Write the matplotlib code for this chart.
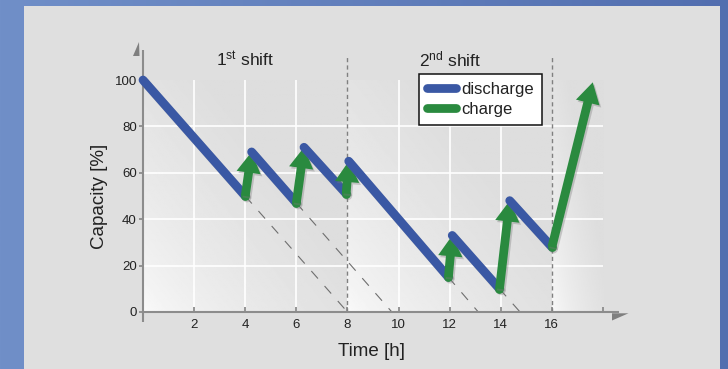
import numpy as np
import matplotlib
matplotlib.use("Agg")
import matplotlib.pyplot as plt
import matplotlib.patheffects as pe
from matplotlib.patches import Rectangle, FancyArrowPatch, Polygon, ArrowStyle
from matplotlib.lines import Line2D

plt.rcParams['font.family'] = ['Liberation Sans', 'DejaVu Sans']
plt.rcParams['mathtext.fontset'] = 'custom'
plt.rcParams['mathtext.rm'] = 'Liberation Sans'

# ---- data -------------------------------------------------------------
# discharge phases run from a peak to the following trough
peak_t = [0.0, 4.25, 6.3, 8.05, 12.1, 14.35]
peak_c = [100, 69, 71, 65, 33, 48]
trough_t = [4.0, 6.0, 7.95, 11.95, 13.95, 16.0]
trough_c = [50, 47, 51, 15, 10, 28]
# final charge after the second shift
final_t = 17.6
final_c = 99
# discharge phases continued (dashed) down to empty
extrapolate = [True, True, False, True, True, False]

shift_edges = [0, 8, 16, 18]
shift_names = ['$\\mathregular{1^{st}}$ shift', '$\\mathregular{2^{nd}}$ shift']
shift_centers = [4, 12]

x_ticks = [2, 4, 6, 8, 10, 12, 14, 16, 18]
x_ticklabels = ['2', '4', '6', '8', '10', '12', '14', '16', '']
y_ticks = [0, 20, 40, 60, 80, 100]
x_grid = [2, 4, 6, 10, 12, 14]
y_grid = [20, 40, 60, 80]

BLUE = '#3a58a4'
GREEN = '#2a8a3f'
AXIS_GREY = '#8c8c8c'
LW = 6.3

W, H = 728, 369
fig = plt.figure(figsize=(W / 100, H / 100), dpi=100)


def px(x, y):
    """pixel position (from top-left) -> figure fraction"""
    return x / W, 1 - y / H


# ---- backdrop: blue frame with a light grey panel ----------------------
bg = fig.add_axes([0, 0, 1, 1], zorder=-10)
bg.set_axis_off()
c_left = np.array([112, 143, 200]) / 255
c_right = np.array([82, 110, 175]) / 255
u = np.linspace(0, 1, 256)
grad = (c_left[None, :] * (1 - u[:, None]) + c_right[None, :] * u[:, None])[None, :, :]
bg.imshow(grad, extent=[0, 1, 0, 1], aspect='auto', transform=bg.transAxes)
x0, y0 = px(24, 369)
x1, y1 = px(720, 6)
bg.add_patch(Rectangle((x0, y0), x1 - x0, y1 - y0, transform=bg.transAxes,
                       facecolor='#dfdfdf', edgecolor='none'))
bg.set_xlim(0, 1)
bg.set_ylim(0, 1)

# ---- main axes ----------------------------------------------------------
left, bottom = px(143, 312)
right, top = px(603, 80)
ax = fig.add_axes([left, bottom, right - left, top - bottom])
ax.set_xlim(0, 18)
ax.set_ylim(0, 100)
ax.patch.set_visible(False)
for s in ax.spines.values():
    s.set_visible(False)

# gradient shading per shift block
gx = np.linspace(0, 1, 200)
gy = np.linspace(0, 1, 200)
GX, GY = np.meshgrid(gx, gy)
t = np.clip((GX * 0.9 + GY * 0.8) / 1.1, 0, 1) ** 0.6
shade = 0.985 - (0.985 - 0.868) * t
for a, b in zip(shift_edges[:-1], shift_edges[1:]):
    ax.imshow(shade, extent=[a, b, 0, 100], origin='lower', aspect='auto',
              cmap='gray', vmin=0, vmax=1, zorder=0)
ax.set_xlim(0, 18)
ax.set_ylim(0, 100)

for gxv in x_grid:
    ax.plot([gxv, gxv], [0, 100], color='white', lw=1.2, zorder=1)
for gyv in y_grid:
    ax.plot([0, 18], [gyv, gyv], color='white', lw=1.2, zorder=1)

# shift boundaries
for xb in shift_edges[1:-1]:
    ax.plot([xb, xb], [0, 110], color='#808080', lw=1.0, dashes=(3, 2.3),
            clip_on=False, zorder=2)

# axes lines with half arrowheads
ax.plot([0, 0], [-4.5, 113], color=AXIS_GREY, lw=1.5, clip_on=False, zorder=3,
        solid_capstyle='butt')
ax.plot([0, 18.62], [0, 0], color=AXIS_GREY, lw=1.5, clip_on=False, zorder=3,
        solid_capstyle='butt')
fig.add_artist(Polygon([px(133, 56), px(139.5, 56), px(139, 42)], closed=True,
                       transform=fig.transFigure, facecolor='#7f7f7f',
                       edgecolor='none'))
fig.add_artist(Polygon([px(612, 313.3), px(628.5, 313.3), px(612, 320.5)],
                       closed=True, transform=fig.transFigure,
                       facecolor='#7f7f7f', edgecolor='none'))

ax.set_xticks(x_ticks)
ax.set_xticklabels(x_ticklabels)
ax.set_yticks(y_ticks)
ax.tick_params(axis='x', direction='in', length=3.5, width=1.3, color=AXIS_GREY,
               pad=5, labelsize=9.5, labelcolor='#222222')
ax.tick_params(axis='y', direction='out', length=3, width=1.3, color=AXIS_GREY,
               pad=1.5, labelsize=9.5, labelcolor='#222222')

ax.set_xlabel('Time [h]', fontsize=13.5, color='#222222')
ax.xaxis.label.set_va('center')
ax.xaxis.set_label_coords((372 - 143) / 460, (312 - 352) / 232)
ax.set_ylabel('Capacity [%]', fontsize=13.5, color='#222222')
ax.yaxis.label.set_va('center')
ax.yaxis.set_label_coords((100 - 143) / 460, 0.5)

for name, xc in zip(shift_names, shift_centers):
    ax.text(xc, 109, name, ha='center', va='center', fontsize=12.5,
            color='#222222', clip_on=False)

# ---- capacity profile -------------------------------------------------
line_shadow = [pe.SimpleLineShadow(offset=(1.2, -1.5), shadow_color='#7a7a7a',
                                   alpha=0.35), pe.Normal()]
patch_shadow = [pe.SimplePatchShadow(offset=(1.2, -1.5), shadow_rgbFace='#7a7a7a',
                                     alpha=0.35), pe.Normal()]

charge_end_t = peak_t[1:] + [final_t]
charge_end_c = peak_c[1:] + [final_c]
arrow_style = ArrowStyle.Simple(head_length=1.5, head_width=1.75,
                                tail_width=LW / 10)

z = 5
for i in range(len(peak_t)):
    # discharge
    ax.plot([peak_t[i], trough_t[i]], [peak_c[i], trough_c[i]], color=BLUE,
            lw=LW, solid_capstyle='round', zorder=z, path_effects=line_shadow,
            clip_on=False)
    if extrapolate[i]:
        slope = (trough_c[i] - peak_c[i]) / (trough_t[i] - peak_t[i])
        t_empty = trough_t[i] - trough_c[i] / slope
        ax.plot([trough_t[i], t_empty], [trough_c[i], 0], color='#6e6e6e',
                lw=0.8, dashes=(9, 9), zorder=2)
    z += 1
    # charge
    ax.plot([trough_t[i]], [trough_c[i]], 'o', color=GREEN, markersize=LW,
            markeredgewidth=0, zorder=z)
    arr = FancyArrowPatch((trough_t[i], trough_c[i]),
                          (charge_end_t[i], charge_end_c[i]),
                          arrowstyle=arrow_style, mutation_scale=10,
                          shrinkA=0, shrinkB=0, color=GREEN, lw=0,
                          zorder=z, clip_on=False, path_effects=patch_shadow)
    ax.add_patch(arr)
    z += 1

# ---- legend --------------------------------------------------------------
handles = [Line2D([], [], color=BLUE, lw=LW, solid_capstyle='round'),
           Line2D([], [], color=GREEN, lw=LW, solid_capstyle='round')]
leg = ax.legend(handles, ['discharge', 'charge'], loc='upper left',
                bbox_to_anchor=px(419, 74), bbox_transform=fig.transFigure,
                frameon=True, fancybox=False, edgecolor='#111111',
                framealpha=1, borderpad=0.5, handlelength=1.7,
                handletextpad=0.35, labelspacing=0.28, borderaxespad=0,
                fontsize=12)
leg.get_frame().set_linewidth(1.1)
leg.set_zorder(50)
for txt in leg.get_texts():
    txt.set_color('#222222')

fig.savefig('out.png', dpi=100)
